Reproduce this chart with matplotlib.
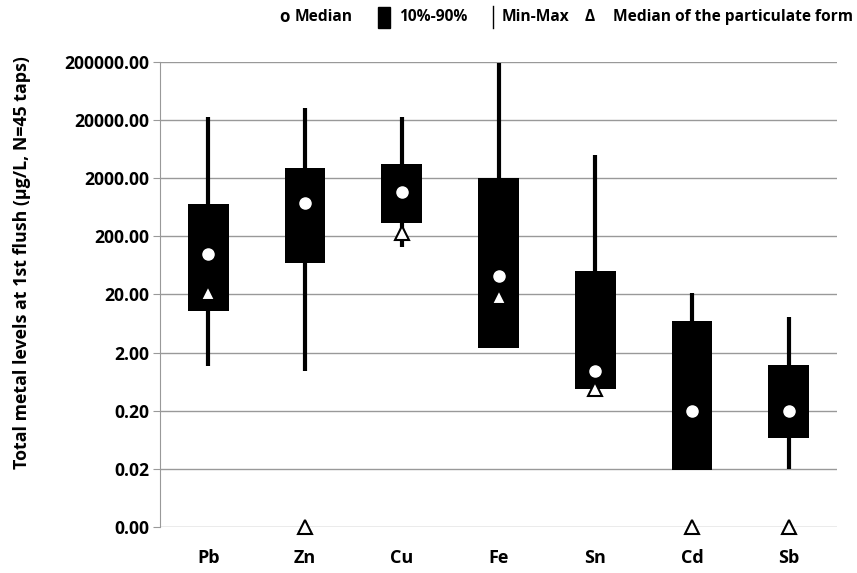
import numpy as np
import matplotlib.pyplot as plt
from matplotlib.patches import Rectangle
from matplotlib.lines import Line2D
from matplotlib.ticker import FixedLocator, FuncFormatter

plt.rcParams['font.family'] = ['Open Sans', 'DejaVu Sans']
plt.rcParams['font.weight'] = 'bold'

# values (µg/L)
metals = ["Pb", "Zn", "Cu", "Fe", "Sn", "Cd", "Sb"]
p10 = [10.4, 70, 340, 2.4, 0.47, 0.019, 0.068]
p90 = [720, 3000, 3500, 2000, 51, 7.0, 1.23]
val_min = [1.2, 0.97, 130, 2.4, 0.47, 0.019, 0.02]
val_max = [22500, 32500, 22500, 196000, 5000, 21, 8.2]
median = [100, 750, 1150, 42, 0.97, 0.2, 0.2]
median_part = [21, 0.002, 230, 18, 0.47, 0.002, 0.002]
y_ticks = [0.002, 0.02, 0.2, 2, 20, 200, 2000, 20000, 200000]

fig = plt.figure(figsize=(8.57, 5.73), dpi=100)
ax = fig.add_axes([0.1867, 0.0803, 0.79, 0.8115])
ax.set_yscale("log")
ax.set_ylim(0.002, 200000)
ax.set_xlim(-0.5, len(metals) - 0.5)

x = np.arange(len(metals))
ax.vlines(x, val_min, val_max, color="black", linewidth=3, zorder=2)
heights = [t - b for t, b in zip(p90, p10)]
ax.bar(x, heights, bottom=p10, width=0.42, color="black", zorder=3)
ax.plot(x, median, "o", color="white", markersize=8, zorder=4,
        linestyle="none")
ax.plot(x, median_part, "^", markerfacecolor="white",
        markeredgecolor="black", markeredgewidth=1.5, markersize=10,
        zorder=5, linestyle="none", clip_on=False)

ax.yaxis.set_major_locator(FixedLocator(y_ticks))
ax.yaxis.set_minor_locator(FixedLocator([]))
ax.yaxis.set_major_formatter(FuncFormatter(lambda v, p: f"{v:.2f}"))
ax.set_xticks(x)
ax.set_xticklabels(metals, fontsize=13, fontweight="bold")
ax.tick_params(axis="y", labelsize=12.6, length=5, color="#999999",
               pad=3)
ax.tick_params(axis="x", length=0, pad=16)
ax.grid(axis="y", color="#999999", linewidth=1)
ax.set_axisbelow(True)
for s in ["top", "right", "bottom"]:
    ax.spines[s].set_visible(False)
ax.spines["left"].set_color("#999999")
ax.set_ylabel("Total metal levels at 1st flush (µg/L, N=45 taps)",
              fontsize=12.8, fontweight="bold")
ax.yaxis.set_label_coords(-0.19, 0.568)

# legend drawn by hand along the top
ly = 1 - 17 / 573
W = 857.0
fs = 11.2
fig.text(279 / W, ly, "o", fontsize=fs + 1, fontweight="bold",
         va="center")
fig.text(295 / W, ly, "Median", fontsize=fs, fontweight="bold",
         va="center")
fig.patches.append(Rectangle((378 / W, 1 - 28 / 573), 12 / W, 21 / 573,
                             transform=fig.transFigure, color="black"))
fig.text(399 / W, ly, "10%-90%", fontsize=fs, fontweight="bold",
         va="center")
fig.lines.append(Line2D([493 / W, 493 / W], [1 - 28 / 573, 1 - 6 / 573],
                        transform=fig.transFigure, color="black",
                        linewidth=1))
fig.text(502 / W, ly, "Min-Max", fontsize=fs, fontweight="bold",
         va="center")
fig.text(585 / W, ly, "Δ", fontsize=fs, fontweight="bold", va="center")
fig.text(853 / W, ly, "Median of the particulate form", fontsize=fs,
         fontweight="bold", va="center", ha="right")

fig.savefig("out.png", dpi=100)
